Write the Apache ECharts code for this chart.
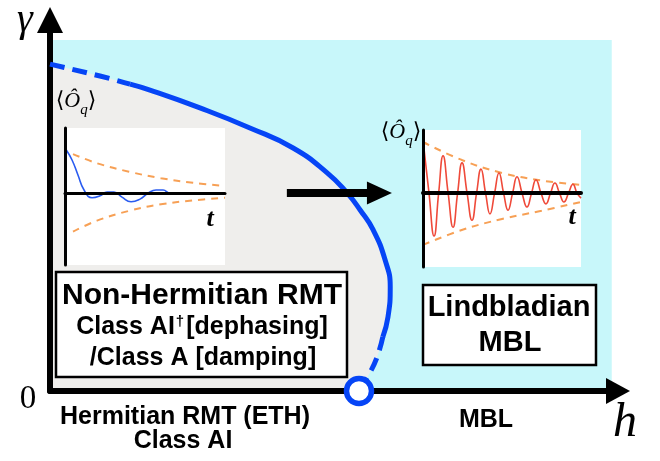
<!DOCTYPE html>
<html><head><meta charset="utf-8">
<script src="https://cdn.jsdelivr.net/npm/echarts@6/dist/echarts.min.js"></script>
<style>html,body{margin:0;padding:0;background:#fff}#c{width:660px;height:461px}</style>
</head><body><div id="c"></div>
<script>
// ---- data (main phase diagram: h horizontal, gamma vertical, arbitrary units 0..10) ----
const cyanRegion = [0, 0, 9.89, 9.46];             // h0, g0, h1, g1 of the open-system region
const boundaryDashTop = [[0, 8.81], [0.88, 8.49], [1.41, 8.27]];
const boundarySolid = [[1.41, 8.27], [1.76, 8.11], [2.64, 7.63], [3.52, 7.09], [4.28, 6.55], [4.88, 5.88],
  [5.23, 5.34], [5.46, 4.88], [5.69, 4.34], [5.90, 3.53], [5.99, 2.80], [5.95, 1.99], [5.86, 1.46]];
const boundaryDashBottom = [[5.86, 1.46], [5.76, 0.92], [5.63, 0.49], [5.44, 0]];
const criticalPoint = [[5.44, 0]];
const flowShaft = [[4.17, 5.34], [5.72, 5.34]];
const flowHead = [[5.80, 5.34]];

// ---- left inset (ETH-like decay) ----
const ethCurve = [[0.09, 0.66], [0.44, 0.51], [0.81, 0.28], [1.19, 0.05], [1.69, -0.07], [2.19, -0.04],
  [2.63, 0.02], [3.06, 0.02], [3.56, -0.06], [4.13, -0.13], [4.69, -0.09], [5.19, 0.0], [5.69, 0.05],
  [6.13, 0.05], [6.56, 0.0], [7.19, 0.0]];
const ethUpper = [[0.5, 0.60], [2, 0.46], [4, 0.33], [6, 0.23], [8, 0.16], [10, 0.11]];
const ethLower = [[0.5, -0.59], [2, -0.42], [4, -0.27], [6, -0.17], [8, -0.11], [10, -0.07]];

// ---- right inset (Lindbladian MBL oscillation) ----
const mblCurve = [[0.06, 0.71], [0.38, 0], [0.70, -0.68], [0.99, 0], [1.27, 0.59], [1.59, 0], [1.90, -0.54],
  [2.19, 0], [2.47, 0.48], [2.79, 0], [3.10, -0.43], [3.39, 0], [3.67, 0.38], [3.96, 0], [4.24, -0.33],
  [4.53, 0], [4.81, 0.32], [5.10, 0], [5.38, -0.27], [5.67, 0], [5.95, 0.26], [6.27, 0], [6.58, -0.22],
  [6.87, 0], [7.15, 0.21], [7.47, 0], [7.78, -0.17], [8.07, 0], [8.35, 0.16], [8.64, 0], [8.92, -0.14],
  [9.21, 0], [9.49, 0.14], [9.75, 0], [10.0, -0.08]];
const mblUpper = [[0, 0.81], [2.5, 0.52], [5, 0.32], [7.5, 0.20], [10, 0.13]];
const mblLower = [[0, -0.82], [2.5, -0.58], [5, -0.41], [7.5, -0.28], [10, -0.14]];

const BLUE = '#0645f6', CYAN = '#c8f7fa', GRAY = '#efeeec', ORANGE = '#f7a055', RED = '#ef4a3a';

const chart = echarts.init(document.getElementById('c'), null, {renderer: 'canvas'});

function bareAxis(extra) {
  return Object.assign({
    type: 'value', axisTick: {show: false}, axisLabel: {show: false}, splitLine: {show: false}
  }, extra);
}
function rectItem(params, api) {
  const p0 = api.coord([api.value(0), api.value(1)]);
  const p1 = api.coord([api.value(2), api.value(3)]);
  return {type: 'rect', shape: {x: p0[0], y: p1[1], width: p1[0] - p0[0], height: p0[1] - p1[1]},
    style: {fill: api.visual('color')}};
}
const serif = '"Liberation Serif","DejaVu Serif",serif';
const sans = '"Liberation Sans",Arial,sans-serif';
function txt(text, x, y, font, extra) {
  return {type: 'text', z: 50, style: Object.assign({
    text: text, x: x, y: y, font: font, fill: '#000',
    textAlign: 'center', textVerticalAlign: 'middle', align: 'center', verticalAlign: 'middle'
  }, extra || {})};
}
function obsLabel(x, y) {
  return {type: 'text', z: 50, style: {
    text: '{a|⟨}{o|Ô}{q|q}{a|⟩}', x: x, y: y, textAlign: 'center', textVerticalAlign: 'middle',
    align: 'center', verticalAlign: 'middle',
    rich: {
      a: {fontFamily: serif, fontSize: 22, fill: '#000', verticalAlign: 'middle'},
      o: {fontFamily: serif, fontSize: 22, fontStyle: 'italic', fill: '#000', verticalAlign: 'middle'},
      q: {fontFamily: serif, fontSize: 15, fontStyle: 'italic', fill: '#000', verticalAlign: 'bottom', padding: [0, 0, -6, 0]}
    }
  }};
}

const option = {
  animation: false,
  backgroundColor: '#fff',
  grid: [
    {left: 50, top: 20, width: 568, height: 371},
    {left: 65, top: 128, width: 160, height: 137},
    {left: 423, top: 130, width: 158, height: 137}
  ],
  xAxis: [
    bareAxis({gridIndex: 0, min: 0, max: 10, z: 6,
      axisLine: {show: true, symbol: ['none', 'triangle'], symbolSize: [26, 24], lineStyle: {color: '#000', width: 6}}}),
    bareAxis({gridIndex: 1, min: 0, max: 10, z: 8,
      axisLine: {show: true, onZero: true, lineStyle: {color: '#000', width: 3}}}),
    bareAxis({gridIndex: 2, min: 0, max: 10, z: 8,
      axisLine: {show: true, onZero: true, lineStyle: {color: '#000', width: 4}}})
  ],
  yAxis: [
    bareAxis({gridIndex: 0, min: 0, max: 10, z: 6,
      axisLine: {show: true, symbol: ['none', 'triangle'], symbolSize: [26, 26], lineStyle: {color: '#000', width: 6}}}),
    bareAxis({gridIndex: 1, min: -1.1, max: 1.0, z: 8,
      axisLine: {show: true, lineStyle: {color: '#000', width: 3}}}),
    bareAxis({gridIndex: 2, min: -1.17, max: 1.0, z: 8,
      axisLine: {show: true, lineStyle: {color: '#000', width: 3}}})
  ],
  series: [
    {type: 'custom', xAxisIndex: 0, yAxisIndex: 0, z: 1, silent: true,
      itemStyle: {color: CYAN}, renderItem: rectItem, data: [cyanRegion]},
    {type: 'line', xAxisIndex: 0, yAxisIndex: 0, z: 2, smooth: true, showSymbol: false, silent: true,
      lineStyle: {width: 0, opacity: 0}, areaStyle: {color: GRAY, opacity: 1},
      data: boundaryDashTop.concat(boundarySolid.slice(1), boundaryDashBottom.slice(1))},
    // insets
    {type: 'custom', xAxisIndex: 1, yAxisIndex: 1, z: 3, silent: true,
      itemStyle: {color: '#fff'}, renderItem: rectItem, data: [[0, -1.1, 10, 1.0]]},
    {type: 'custom', xAxisIndex: 2, yAxisIndex: 2, z: 3, silent: true,
      itemStyle: {color: '#fff'}, renderItem: rectItem, data: [[0, -1.17, 10, 1.0]]},
    {type: 'line', xAxisIndex: 1, yAxisIndex: 1, z: 4, smooth: 0.4, showSymbol: false,
      lineStyle: {color: ORANGE, width: 2, type: [7, 6]}, data: ethUpper},
    {type: 'line', xAxisIndex: 1, yAxisIndex: 1, z: 4, smooth: 0.4, showSymbol: false,
      lineStyle: {color: ORANGE, width: 2, type: [7, 6]}, data: ethLower},
    {type: 'line', xAxisIndex: 1, yAxisIndex: 1, z: 5, smooth: 0.5, showSymbol: false,
      lineStyle: {color: '#2a5cf0', width: 1.6}, data: ethCurve},
    {type: 'line', xAxisIndex: 2, yAxisIndex: 2, z: 4, smooth: 0.4, showSymbol: false,
      lineStyle: {color: ORANGE, width: 2, type: [7, 6]}, data: mblUpper},
    {type: 'line', xAxisIndex: 2, yAxisIndex: 2, z: 4, smooth: 0.4, showSymbol: false,
      lineStyle: {color: ORANGE, width: 2, type: [7, 6]}, data: mblLower},
    {type: 'line', xAxisIndex: 2, yAxisIndex: 2, z: 5, smooth: 0.5, showSymbol: false,
      lineStyle: {color: RED, width: 1.6}, data: mblCurve},
    // boundary
    {type: 'line', xAxisIndex: 0, yAxisIndex: 0, z: 9, smooth: 0.5, showSymbol: false,
      lineStyle: {color: BLUE, width: 5, type: [15, 8]}, data: boundaryDashTop},
    {type: 'line', xAxisIndex: 0, yAxisIndex: 0, z: 9, smooth: 0.5, showSymbol: false,
      lineStyle: {color: BLUE, width: 5}, data: boundarySolid},
    {type: 'line', xAxisIndex: 0, yAxisIndex: 0, z: 9, smooth: 0.5, showSymbol: false,
      lineStyle: {color: BLUE, width: 5, type: [14, 8]}, data: boundaryDashBottom},
    // flow arrow
    {type: 'line', xAxisIndex: 0, yAxisIndex: 0, z: 10, showSymbol: false,
      lineStyle: {color: '#000', width: 8, cap: 'butt'}, data: flowShaft},
    {type: 'scatter', xAxisIndex: 0, yAxisIndex: 0, z: 10, symbol: 'triangle', symbolSize: [23, 25],
      symbolRotate: -90, itemStyle: {color: '#000', opacity: 1}, data: flowHead},
    {type: 'scatter', xAxisIndex: 0, yAxisIndex: 0, z: 12, symbol: 'circle', symbolSize: 25,
      itemStyle: {color: '#fff', borderColor: BLUE, borderWidth: 5.5, opacity: 1}, data: criticalPoint}
  ],
  graphic: [
    txt('γ', 25, 20, 'italic 40px ' + serif),
    txt('0', 28, 399, '33px ' + serif),
    txt('h', 625, 423, 'italic 48px ' + serif),
    obsLabel(76, 101),
    obsLabel(401, 132),
    txt('t', 210, 219, 'italic bold 26px ' + serif),
    txt('t', 572, 217, 'italic bold 26px ' + serif),
    {type: 'rect', z: 40, shape: {x: 56, y: 272, width: 291, height: 105},
      style: {fill: '#fff', stroke: '#000', lineWidth: 2.5}},
    txt('Non-Hermitian RMT', 202, 296, 'bold 30px ' + sans),
    {type: 'text', z: 50, style: {text: '{a|Class AI}{s|†}{a|[dephasing]}', x: 202, y: 327,
      textAlign: 'center', textVerticalAlign: 'middle', align: 'center', verticalAlign: 'middle',
      rich: {a: {fontFamily: sans, fontWeight: 'bold', fontSize: 25, fill: '#000'},
        s: {fontFamily: sans, fontWeight: 'bold', fontSize: 15, fill: '#000', verticalAlign: 'top', padding: [0, 2, 8, 1]}}}},
    txt('/Class A [damping]', 203, 358, 'bold 25px ' + sans),
    {type: 'rect', z: 40, shape: {x: 423, y: 285, width: 173, height: 80},
      style: {fill: '#fff', stroke: '#000', lineWidth: 2.5}},
    txt('Lindbladian', 509, 308, 'bold 29px ' + sans),
    txt('MBL', 510, 343, 'bold 29px ' + sans),
    txt('Hermitian RMT (ETH)', 185, 417, 'bold 25px ' + sans),
    txt('Class AI', 183, 441, 'bold 25px ' + sans),
    txt('MBL', 486, 420, 'bold 25px ' + sans)
  ]
};
chart.setOption(option);
</script>
</body></html>
